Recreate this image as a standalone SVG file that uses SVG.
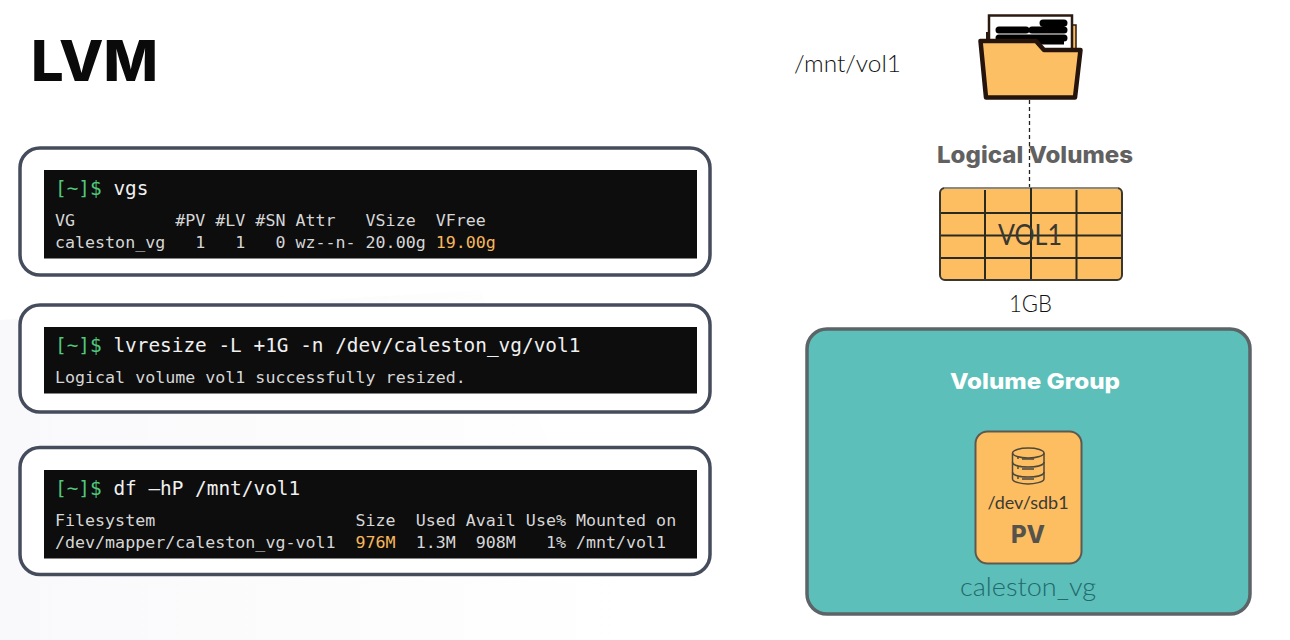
<svg xmlns="http://www.w3.org/2000/svg" width="1290" height="640" viewBox="0 0 1290 640">
<defs>
<linearGradient id="bgfade" x1="0" y1="0" x2="1" y2="0"><stop offset="0" stop-color="#f9f9fb"/><stop offset="1" stop-color="#fff"/></linearGradient>
</defs>
<style>
.panel{fill:#fff;stroke:#454c5c;stroke-width:3.5}
.term{fill:#0d0d0d}
.mono{font-family:"DejaVu Sans Mono","Liberation Mono",monospace;white-space:pre}
.big{font-size:19.4px;fill:#f0f0f0}
.small{font-size:16.65px;fill:#d6d6d6}
.green{fill:#4fc97c}
.hl{fill:#f6b65c}
.sans{font-family:Lato,"Open Sans",sans-serif;font-weight:300}
.heavy{font-family:Inter,Lato,sans-serif;font-weight:800}
.cell{stroke:#2a2a20;stroke-width:2;fill:none}
</style>
<rect width="1290" height="640" fill="#fff"/>
<path d="M0 320 L480 290 L640 640 L0 640Z" fill="url(#bgfade)"/>
<text class="heavy" x="31" y="81" font-size="57" fill="#0a0a0a" textLength="127" lengthAdjust="spacingAndGlyphs">LVM</text>
<g id="panel-vgs">
<rect class="panel" x="20" y="148" width="690" height="127" rx="20"/>
<rect class="term" x="44" y="170" width="653" height="88.500"/>
<text class="mono big" x="55" y="195"><tspan class="green">[~]$</tspan> vgs</text>
<text class="mono small" x="55" y="226">VG          #PV #LV #SN Attr   VSize  VFree</text>
<text class="mono small" x="55" y="248">caleston_vg   1   1   0 wz--n- 20.00g <tspan class="hl">19.00g</tspan></text>
</g>
<g id="panel-lvresize">
<rect class="panel" x="20" y="305" width="690" height="107" rx="20"/>
<rect class="term" x="44" y="327" width="653" height="66.500"/>
<text class="mono big" x="55" y="352"><tspan class="green">[~]$</tspan> lvresize -L +1G -n /dev/caleston_vg/vol1</text>
<text class="mono small" x="55" y="383">Logical volume vol1 successfully resized.</text>
</g>
<g id="panel-df">
<rect class="panel" x="20" y="447.500" width="690" height="127" rx="20"/>
<rect class="term" x="44" y="470" width="653" height="88.500"/>
<text class="mono big" x="55" y="495"><tspan class="green">[~]$</tspan> df –hP /mnt/vol1</text>
<text class="mono small" x="55" y="526">Filesystem                    Size  Used Avail Use% Mounted on</text>
<text class="mono small" x="55" y="548">/dev/mapper/caleston_vg-vol1  <tspan class="hl">976M</tspan>  1.3M  908M   1% /mnt/vol1</text>
</g>
<g id="connectors">
<line x1="1029.500" y1="100" x2="1029.500" y2="188" stroke="#222" stroke-width="1.300" stroke-dasharray="4 3"/>
</g>
<g id="mount-label"><text class="sans" x="794" y="72" font-size="24" fill="#111" textLength="107" lengthAdjust="spacingAndGlyphs">/mnt/vol1</text></g>
<g id="folder">
<path d="M986 32H1072V90H986Z" fill="#2a1a10"/>
<path d="M1072 25H1076V50H1072Z" fill="#fdbf63" stroke="#2a1a10" stroke-width="1.500"/>
<rect x="989" y="15.500" width="83" height="36" fill="#fff" stroke="#2a1a10" stroke-width="2.500"/>
<path d="M1043 23H1064M999 30H1026M1032 30H1064M999 38H1064" stroke="#000" stroke-width="7" stroke-linecap="round"/>
<path d="M999 42H1064" stroke="#000" stroke-width="5"/>
<path d="M980.500 41H1036L1044 50H1080.500L1075 97.500H986Z" fill="#fdbf63" stroke="#24140c" stroke-width="4.500" stroke-linejoin="round"/>
</g>
<g id="logical-volumes-label"><text class="heavy" x="937" y="163" font-size="23" fill="#616161" textLength="196" lengthAdjust="spacingAndGlyphs">Logical Volumes</text></g>
<g id="vol1">
<rect x="940" y="188" width="182" height="92" rx="5" fill="#fdbe62" stroke="#3a3630" stroke-width="2"/>
<path d="M944 188H1118" stroke="#8a8a84" stroke-width="2"/>
<path class="cell" d="M985 190V279M1031 188V279M1076.500 190V279M941 213H1121M941 235.500H1121M941 258H1121"/>
<text x="998" y="245" font-family="Lato,sans-serif" font-size="29" fill="#3a3830" textLength="64" lengthAdjust="spacingAndGlyphs">VOL1</text>
<text class="sans" x="1009" y="312" font-size="24" fill="#111" textLength="43" lengthAdjust="spacingAndGlyphs">1GB</text>
</g>
<g id="volume-group">
<rect x="807" y="329" width="443" height="285" rx="20" fill="#5dbfb9" stroke="#5c6468" stroke-width="3.500"/>
<text class="heavy" x="950" y="389" font-size="22" fill="#fff" textLength="170" lengthAdjust="spacingAndGlyphs">Volume Group</text>
<text class="sans" x="960" y="596" font-size="25" fill="#22696c" textLength="136" lengthAdjust="spacingAndGlyphs">caleston_vg</text>
</g>
<g id="pv">
<rect x="975.500" y="431.500" width="106" height="132" rx="12" fill="#fdbe62" stroke="#5c5a50" stroke-width="2"/>
<g fill="none" stroke="#4d483c" stroke-width="1.500">
<path d="M1012.500 453V479C1012.500 482 1022 484 1028 484S1044 482 1044 479V453"/>
<ellipse cx="1028.300" cy="453" rx="15.700" ry="5"/>
<path d="M1012.500 462C1012.500 466 1022 467 1028 467S1044 466 1044 462M1012.500 472C1012.500 476 1022 477 1028 477S1044 476 1044 472"/>
<path d="M1017 458H1019M1022 459H1034M1017 468H1019M1022 469H1034M1017 478H1019M1022 479H1034"/>
</g>
<text x="1028" y="509" text-anchor="middle" font-family="Lato,sans-serif" font-size="18" fill="#3c3a34">/dev/sdb1</text>
<text class="heavy" x="1028" y="543" text-anchor="middle" font-size="24" fill="#55534c">PV</text>
</g>
</svg>
